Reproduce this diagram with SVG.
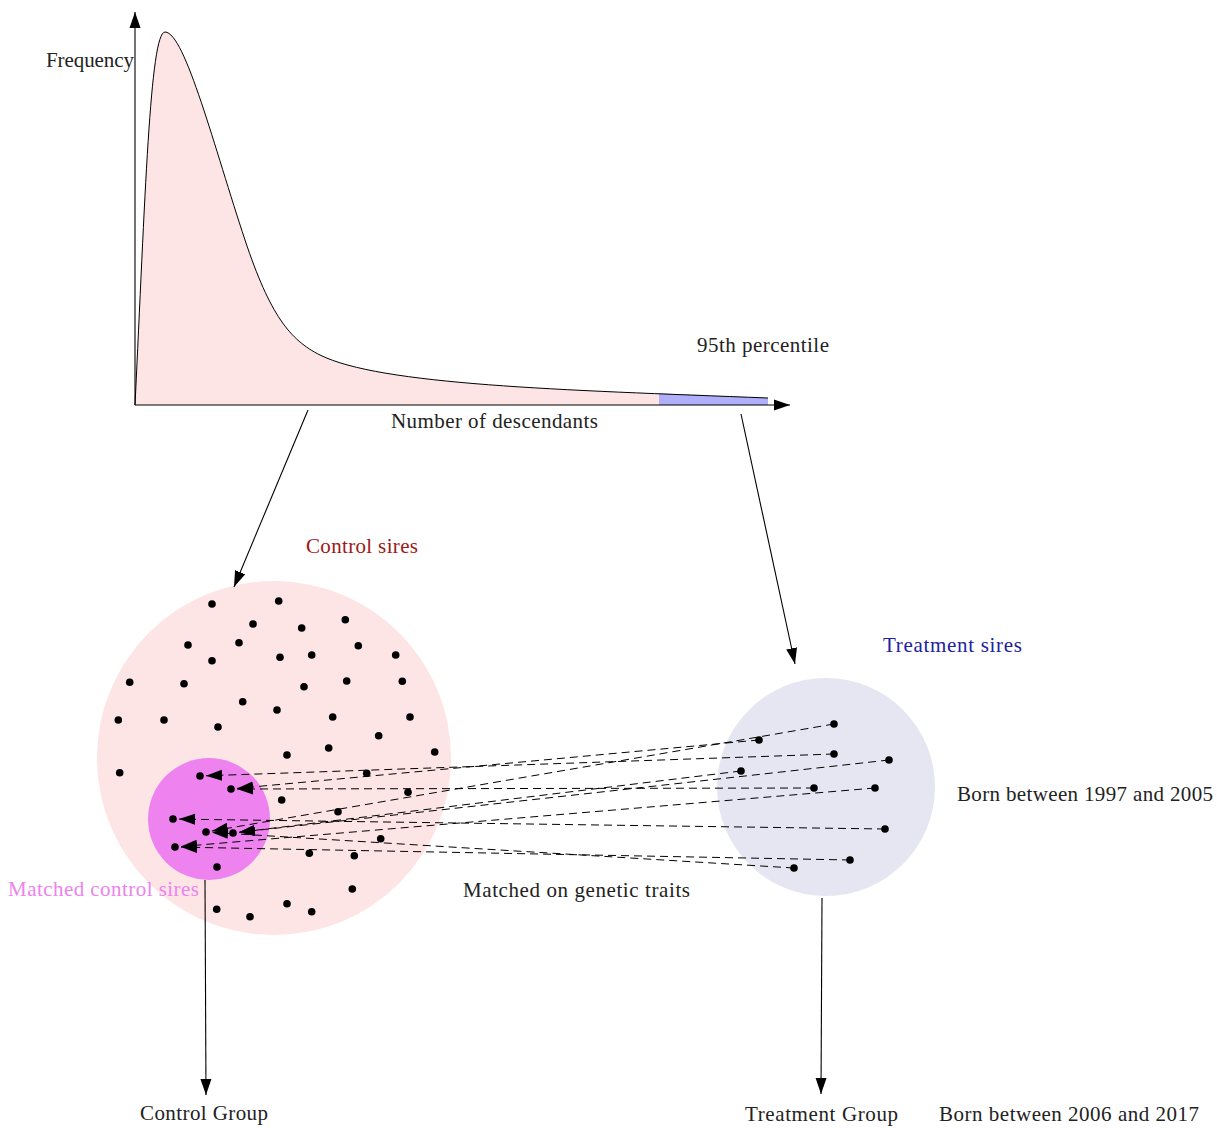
<svg xmlns="http://www.w3.org/2000/svg" width="1217" height="1128" viewBox="0 0 1217 1128">
<style>
text{font-family:"Liberation Serif","Times New Roman",serif;font-size:21px;fill:#222}
.dot{fill:#000}
.dash{stroke:#000;stroke-width:1;stroke-dasharray:8 5;fill:none}
.solid{stroke:#000;stroke-width:1.1;fill:none}
</style>
<defs>
<marker id="ah" markerUnits="userSpaceOnUse" markerWidth="18" markerHeight="14" refX="16" refY="6" orient="auto" viewBox="0 0 18 14">
<path d="M0,0.5 L16,6 L0,11.5 Z" fill="#000"/>
</marker>
<marker id="ahd" markerUnits="userSpaceOnUse" markerWidth="18" markerHeight="14" refX="16" refY="6" orient="auto" viewBox="0 0 18 14">
<path d="M0,0.5 L16,6 L0,11.5 Z" fill="#000"/>
</marker>
</defs>
<rect width="1217" height="1128" fill="#fff"/>

<g id="histogram">
<path d="M135,405 C145,200 150,32 165,32 C185,32 215,150 245,240 C270,315 290,340 320,355 C380,385 560,390 768,398 L768,405 Z" fill="#fde5e5"/>
<path d="M659,393.2 C700,395 740,396.6 768,398 L768,405 L659,405 Z" fill="#b0b0fa"/>
<path d="M135,405 C145,200 150,32 165,32 C185,32 215,150 245,240 C270,315 290,340 320,355 C380,385 560,390 768,398" fill="none" stroke="#000" stroke-width="1"/>
<line x1="135" y1="405" x2="135" y2="12" class="solid" marker-end="url(#ah)"/>
<line x1="135" y1="405" x2="790" y2="405" class="solid" marker-end="url(#ah)"/>
<text x="46" y="67" textLength="88">Frequency</text>
<text x="697" y="352" textLength="132">95th percentile</text>
<text x="391" y="428" textLength="207">Number of descendants</text>
</g>

<g id="control-sires">
<circle cx="274" cy="758" r="177" fill="#fde5e5"/>
<text x="306" y="553" textLength="112" style="fill:#a01818">Control sires</text>
</g>

<g id="matched-control-sires">
<circle cx="209" cy="819" r="61" fill="#ee82ee"/>
<text x="8" y="896" textLength="191" style="fill:#ee82ee">Matched control sires</text>
</g>

<g id="treatment-sires">
<circle cx="826" cy="787" r="109" fill="#e6e6f2"/>
<text x="883" y="652" textLength="139" style="fill:#2020a0">Treatment sires</text>
<text x="957" y="801" textLength="256">Born between 1997 and 2005</text>
</g>

<g id="matched-label">
<text x="463" y="897" textLength="227">Matched on genetic traits</text>
</g>

<g id="control-group">
<text x="140" y="1120" textLength="128">Control Group</text>
</g>

<g id="treatment-group">
<text x="745" y="1121" textLength="153">Treatment Group</text>
<text x="939" y="1121" textLength="260">Born between 2006 and 2017</text>
</g>

<g id="dots">
<circle class="dot" cx="212" cy="604" r="3.8"/>
<circle class="dot" cx="278.7" cy="601" r="3.8"/>
<circle class="dot" cx="253" cy="624" r="3.8"/>
<circle class="dot" cx="301.7" cy="628" r="3.8"/>
<circle class="dot" cx="345.3" cy="619.7" r="3.8"/>
<circle class="dot" cx="188" cy="645" r="3.8"/>
<circle class="dot" cx="239" cy="642.7" r="3.8"/>
<circle class="dot" cx="358.3" cy="645.7" r="3.8"/>
<circle class="dot" cx="212" cy="660.7" r="3.8"/>
<circle class="dot" cx="280" cy="657.3" r="3.8"/>
<circle class="dot" cx="311.7" cy="655" r="3.8"/>
<circle class="dot" cx="395.7" cy="655" r="3.8"/>
<circle class="dot" cx="129.7" cy="682.3" r="3.8"/>
<circle class="dot" cx="184" cy="683.7" r="3.8"/>
<circle class="dot" cx="304" cy="686.7" r="3.8"/>
<circle class="dot" cx="346.7" cy="681" r="3.8"/>
<circle class="dot" cx="402.3" cy="681.3" r="3.8"/>
<circle class="dot" cx="242.7" cy="701.7" r="3.8"/>
<circle class="dot" cx="277" cy="710" r="3.8"/>
<circle class="dot" cx="118.3" cy="720" r="3.8"/>
<circle class="dot" cx="164" cy="720" r="3.8"/>
<circle class="dot" cx="218" cy="727" r="3.8"/>
<circle class="dot" cx="332.7" cy="717" r="3.8"/>
<circle class="dot" cx="410" cy="717" r="3.8"/>
<circle class="dot" cx="378.7" cy="735.7" r="3.8"/>
<circle class="dot" cx="287" cy="755" r="3.8"/>
<circle class="dot" cx="328.7" cy="748" r="3.8"/>
<circle class="dot" cx="434.7" cy="752" r="3.8"/>
<circle class="dot" cx="119.7" cy="772.7" r="3.8"/>
<circle class="dot" cx="366.7" cy="773.3" r="3.8"/>
<circle class="dot" cx="281.7" cy="800" r="3.8"/>
<circle class="dot" cx="408" cy="792.3" r="3.8"/>
<circle class="dot" cx="338" cy="811.7" r="3.8"/>
<circle class="dot" cx="380.7" cy="838.7" r="3.8"/>
<circle class="dot" cx="309.3" cy="853.3" r="3.8"/>
<circle class="dot" cx="354.3" cy="855.7" r="3.8"/>
<circle class="dot" cx="352.3" cy="889" r="3.8"/>
<circle class="dot" cx="216.7" cy="909.3" r="3.8"/>
<circle class="dot" cx="250" cy="916.7" r="3.8"/>
<circle class="dot" cx="287" cy="903.7" r="3.8"/>
<circle class="dot" cx="311.7" cy="911.7" r="3.8"/>
<circle class="dot" cx="200" cy="776" r="3.8"/>
<circle class="dot" cx="231" cy="789" r="3.8"/>
<circle class="dot" cx="173" cy="819" r="3.8"/>
<circle class="dot" cx="206" cy="832" r="3.8"/>
<circle class="dot" cx="233" cy="833" r="3.8"/>
<circle class="dot" cx="175" cy="847" r="3.8"/>
<circle class="dot" cx="217" cy="867" r="3.8"/>
<circle class="dot" cx="834" cy="724" r="3.8"/>
<circle class="dot" cx="759" cy="740" r="3.8"/>
<circle class="dot" cx="834" cy="754" r="3.8"/>
<circle class="dot" cx="889" cy="760" r="3.8"/>
<circle class="dot" cx="741" cy="771" r="3.8"/>
<circle class="dot" cx="814" cy="788" r="3.8"/>
<circle class="dot" cx="875" cy="788" r="3.8"/>
<circle class="dot" cx="885" cy="829" r="3.8"/>
<circle class="dot" cx="850" cy="860" r="3.8"/>
<circle class="dot" cx="794" cy="868" r="3.8"/>
</g>

<g id="connectors">
<line class="solid" x1="308" y1="410" x2="234" y2="587" marker-end="url(#ah)"/>
<line class="solid" x1="741" y1="414" x2="795" y2="664" marker-end="url(#ah)"/>
<line class="solid" x1="205" y1="880" x2="206" y2="1095" marker-end="url(#ah)"/>
<line class="solid" x1="822" y1="898" x2="821" y2="1094" marker-end="url(#ah)"/>
<line class="dash" x1="834" y1="754" x2="206" y2="775.8" marker-end="url(#ahd)"/>
<line class="dash" x1="759" y1="740" x2="237" y2="788.4" marker-end="url(#ahd)"/>
<line class="dash" x1="814" y1="788" x2="237" y2="789" marker-end="url(#ahd)"/>
<line class="dash" x1="885" y1="829" x2="179" y2="819.1" marker-end="url(#ahd)"/>
<line class="dash" x1="834" y1="724" x2="211.9" y2="831" marker-end="url(#ahd)"/>
<line class="dash" x1="794" y1="868" x2="212" y2="832.4" marker-end="url(#ahd)"/>
<line class="dash" x1="889" y1="760" x2="239" y2="832.3" marker-end="url(#ahd)"/>
<line class="dash" x1="741" y1="771" x2="239" y2="832.3" marker-end="url(#ahd)"/>
<line class="dash" x1="875" y1="788" x2="181" y2="846.5" marker-end="url(#ahd)"/>
<line class="dash" x1="850" y1="860" x2="181" y2="847.1" marker-end="url(#ahd)"/>
</g>
</svg>
